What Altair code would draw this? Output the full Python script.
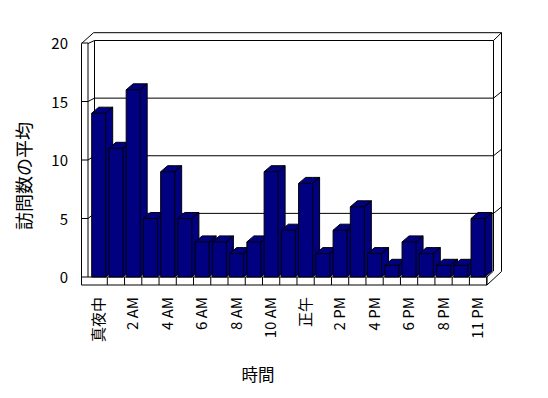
import altair as alt
import pandas as pd

# ---- data ----
categories = ["真夜中", "1 AM", "2 AM", "3 AM", "4 AM", "5 AM", "6 AM", "7 AM",
              "8 AM", "9 AM", "10 AM", "11 AM", "正午", "1 PM", "2 PM", "3 PM",
              "4 PM", "5 PM", "6 PM", "7 PM", "8 PM", "9 PM", "11 PM"]
values = [14, 11, 16, 5, 9, 5, 3, 3, 2, 3, 9, 4, 8, 2, 4, 6, 2, 1, 3, 2, 1, 1, 5]
label_positions = [0, 2, 4, 6, 8, 10, 12, 14, 16, 18, 20, 22]
y_ticks = [0, 5, 10, 15, 20]
grid_values = [5, 10, 15]
y_title = "訪問数の平均"
x_title = "時間"

# ---- style ----
NAVY = "#000080"
FONT = "Noto Sans CJK JP"
W, DX, DY = 0.406, 0.406, 0.513          # bar half width, 3-D depth (in scale units)
PW, PH = 399, 234                        # plot area in pixels

base = pd.DataFrame({"i": list(range(len(values))), "cat": categories, "v": values})
xs = alt.Scale(domain=[-0.62, 22.52], nice=False, zero=False)
ys = alt.Scale(domain=[0, 20], nice=False, zero=True)

# ---- decorative 3-D frame (pixel coordinates of the plot area) ----
frame_segments = pd.DataFrame(
    [
        [-6.5, 0.5, -6.5, 242],      # left wall outer
        [0, 0, 0, 234],              # left wall inner (value axis line)
        [0, 234, 399, 234],          # floor top (category axis line)
        [-6.5, 242, 399, 242],       # floor bottom
        [399, 234, 399, 242],        # floor right end
        [399, 242, 413.5, 228.5],    # floor bottom-right diagonal
        [399, 234, 405.5, 228],      # floor top-right diagonal
        [413.5, -10.3, 413.5, 228.5],# right wall outer
        [405.5, -2.5, 405.5, 228],   # right wall inner
        [5.5, -10.3, 413.5, -10.3],  # top outer
        [6.5, -2.5, 405.5, -2.5],    # top inner
        [-6.5, 0.5, 5.5, -10.3],     # top-left outer diagonal
        [0, 0.5, 6.5, -2.5],         # top-left inner diagonal
        [405.5, -2.5, 413.5, -10.3], # top-right diagonal
        [6.5, -2.5, 6.5, 228],       # back wall left
    ],
    columns=["xa", "ya", "xb", "yb"],
)
frame = alt.Chart(frame_segments).mark_rule(color="black", strokeWidth=1).encode(
    x=alt.X("xa:Q", scale=None, axis=None),
    y=alt.Y("ya:Q", scale=None, axis=None),
    x2="xb:Q",
    y2="yb:Q",
)

grid = (
    alt.Chart(pd.DataFrame({"g": grid_values}))
    .transform_calculate(gb="0.513 + 0.985 * datum.g")
    .transform_calculate(gr="datum.gb + 0.55")
)
grid_left = grid.mark_rule(color="black").encode(
    x=alt.value(0), x2=alt.value(6.5),
    y=alt.Y("g:Q", scale=ys, axis=None), y2="gb:Q")
grid_back = grid.mark_rule(color="black").encode(
    x=alt.value(6.5), x2=alt.value(405.5),
    y=alt.Y("gb:Q", scale=ys, axis=None))
grid_right = grid.mark_rule(color="black").encode(
    x=alt.value(405.5), x2=alt.value(413.5),
    y=alt.Y("gb:Q", scale=ys, axis=None), y2="gr:Q")

# ---- value axis: ticks on the left wall and labels ----
ytick_df = pd.DataFrame({"t": y_ticks})
y_tick_marks = alt.Chart(ytick_df).mark_rule(color="black").encode(
    x=alt.value(-6.5), x2=alt.value(0),
    y=alt.Y("t:Q", scale=ys, axis=None))
y_labels = alt.Chart(ytick_df).mark_text(
    font=FONT, fontSize=15, color="black", align="right", baseline="middle", dy=1
).encode(x=alt.value(-20), y=alt.Y("t:Q", scale=ys, axis=None), text="t:Q")

# ---- category axis: ticks on the floor and rotated labels ----
floor_ticks = alt.Chart(base).transform_calculate(b="datum.i + 0.5").mark_rule(
    color="black").encode(
    x=alt.X("b:Q", scale=xs, axis=None), y=alt.value(PH), y2=alt.value(242))
x_labels = (
    alt.Chart(base)
    .transform_filter(alt.FieldOneOfPredicate(field="i", oneOf=label_positions))
    .mark_text(font=FONT, fontSize=15, color="black", angle=270,
               align="right", baseline="middle")
    .encode(x=alt.X("i:Q", scale=xs, axis=None), y=alt.value(254), text="cat:N")
)

titles = [
    alt.Chart(pd.DataFrame({"t": [y_title]})).mark_text(
        font=FONT, fontSize=18, color="black", angle=270,
        align="center", baseline="middle").encode(
        x=alt.value(-62), y=alt.value(133), text="t:N"),
    alt.Chart(pd.DataFrame({"t": [x_title]})).mark_text(
        font=FONT, fontSize=16.5, color="black",
        align="center", baseline="middle").encode(
        x=alt.value(170), y=alt.value(333), text="t:N"),
]

layers = [frame, grid_left, grid_back, grid_right, y_tick_marks, y_labels,
          floor_ticks, x_labels] + titles

for k in range(len(values)):
    src = alt.Chart(base).transform_filter(f"datum.i == {k}")
    body = (
        src.transform_calculate(s="[0, 1, 2, 3]")
        .transform_flatten(["s"])
        .transform_calculate(ax=f"datum.s == 0 ? datum.i - {W} : datum.s == 1 ? datum.i - {W} + {DX} : datum.s == 2 ? datum.i + {W} : datum.i + {W} + {DX}")
        .transform_calculate(ay=f"datum.s == 0 ? datum.v : datum.v + {DY}")
        .transform_calculate(ay2=f"datum.s == 3 ? {DY} : 0")
        .mark_area(fill=NAVY, stroke="black", strokeWidth=1, interpolate="linear")
        .encode(x=alt.X("ax:Q", scale=xs, axis=None),
                y=alt.Y("ay:Q", scale=ys, axis=None),
                y2="ay2:Q")
    )
    edges = (
        src.transform_calculate(t="[0, 1, 2, 3, 4]")
        .transform_flatten(["t"])
        .transform_calculate(lx=f"datum.t == 0 ? datum.i - {W} : datum.t == 2 ? datum.i + {W} + {DX} : datum.i + {W}")
        .transform_calculate(ly=f"datum.t == 4 ? 0 : datum.t == 2 ? datum.v + {DY} : datum.v")
        .mark_line(color="black", strokeWidth=1)
        .encode(x=alt.X("lx:Q", scale=xs, axis=None),
                y=alt.Y("ly:Q", scale=ys, axis=None),
                order=alt.Order("t:Q"))
    )
    layers += [body, edges]

chart = (
    alt.layer(*layers)
    .properties(
        width=PW, height=PH,
        autosize=alt.AutoSizeParams(type="none"),
        padding={"left": 88, "top": 43, "right": 548 - 88 - PW, "bottom": 398 - 43 - PH},
        background="white",
    )
    .configure_view(stroke=None)
)

chart.save("out.html", embed_options={"renderer": "svg", "actions": False})
